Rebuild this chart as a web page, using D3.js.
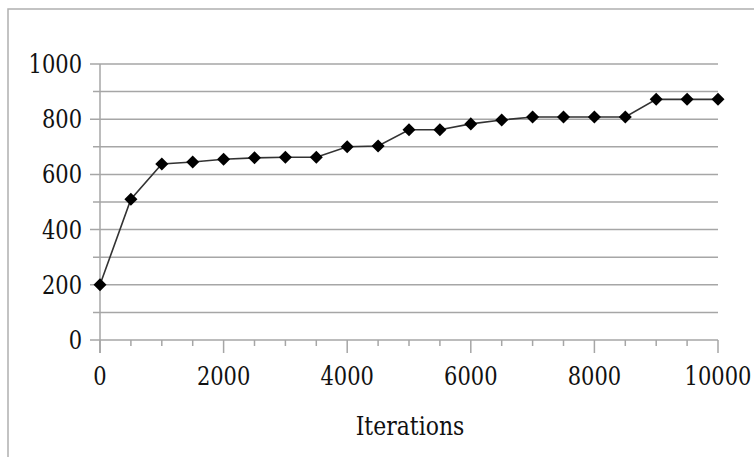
<!DOCTYPE html>
<html>
<head>
<meta charset="utf-8">
<script src="https://cdn.jsdelivr.net/npm/d3@7"></script>
<style>
html,body{margin:0;padding:0;background:#fff;}
svg{display:block;}
text{font-family:"DejaVu Serif",serif;fill:#111;}
</style>
</head>
<body>
<svg id="chart" width="754" height="457"></svg>
<script>
const iterations = [0,500,1000,1500,2000,2500,3000,3500,4000,4500,5000,5500,6000,6500,7000,7500,8000,8500,9000,9500,10000];
const values = [200,510,638,645,655,660,662,662,700,703,762,762,783,797,808,808,808,808,872,872,872];
const xTickLabels = [0,2000,4000,6000,8000,10000];
const yTickLabels = [0,200,400,600,800,1000];
const xTitle = "Iterations";

(function(){
const svg = d3.select("#chart");
const mLeft = 100, mRight = 718, mTop = 64, mBottom = 340;
const x = d3.scaleLinear().domain([0,10000]).range([mLeft,mRight]);
const y = d3.scaleLinear().domain([0,1000]).range([mBottom,mTop]);
const grid = "#a6a6a6";
const sy = 1.2; // vertical stretch of glyphs to match the reference's tall digits

// outer frame
svg.append("rect").attr("x",8).attr("y",9).attr("width",760).attr("height",460)
  .attr("fill","none").attr("stroke","#b0b0b0").attr("stroke-width",1.5);

// horizontal gridlines every 100
const gridVals = d3.range(0,1001,100);
svg.append("g").selectAll("line").data(gridVals).join("line")
  .attr("x1",d => d % 200 === 0 ? mLeft-10 : mLeft-7)
  .attr("x2",mRight)
  .attr("y1",d=>y(d)).attr("y2",d=>y(d))
  .attr("stroke",grid).attr("stroke-width",1.5);

// y axis line
svg.append("line").attr("x1",mLeft).attr("x2",mLeft).attr("y1",mTop).attr("y2",mBottom+13)
  .attr("stroke",grid).attr("stroke-width",1.5);

// x ticks
svg.append("g").selectAll("line").data(iterations).join("line")
  .attr("x1",d=>x(d)).attr("x2",d=>x(d))
  .attr("y1",mBottom).attr("y2",d => d % 2000 === 0 ? mBottom+13 : mBottom+6)
  .attr("stroke",grid).attr("stroke-width",1.5);

// y labels
svg.append("g").selectAll("text").data(yTickLabels).join("text")
  .attr("transform",d=>`translate(82,${y(d)}) scale(1,${sy})`)
  .attr("dy","0.36em")
  .attr("text-anchor","end").attr("font-size",21).text(d=>d);

// x labels
svg.append("g").selectAll("text").data(xTickLabels).join("text")
  .attr("transform",d=>`translate(${x(d)},385) scale(1,${sy})`)
  .attr("text-anchor","middle").attr("font-size",21).text(d=>d);

// x title
svg.append("text").attr("transform",`translate(410,435) scale(1,${sy})`)
  .attr("text-anchor","middle").attr("font-size",22).text(xTitle);

// line
const pts = iterations.map((d,i)=>[d,values[i]]);
svg.append("path").datum(pts)
  .attr("d",d3.line().x(d=>x(d[0])).y(d=>y(d[1])))
  .attr("fill","none").attr("stroke","#333").attr("stroke-width",1.6);

// markers (diamonds)
svg.append("g").selectAll("path").data(pts).join("path")
  .attr("transform",d=>`translate(${x(d[0])},${y(d[1])}) rotate(45)`)
  .attr("d",d3.symbol().type(d3.symbolSquare).size(85))
  .attr("fill","#000");
})();
</script>
</body>
</html>
